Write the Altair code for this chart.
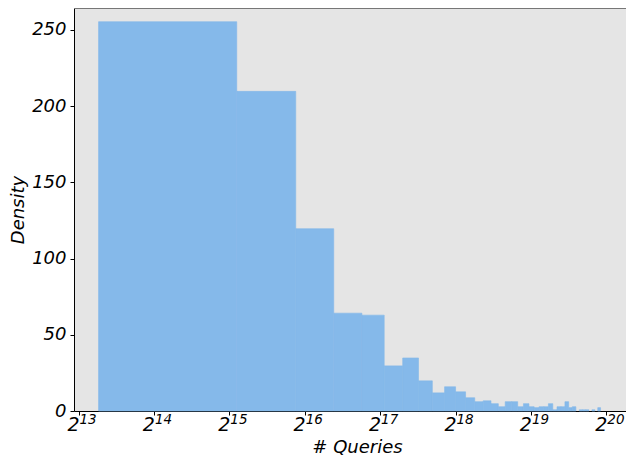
import altair as alt
import pandas as pd

# Histogram: equal-width linear bins shown on a log2 x axis
bin_min = 9850
bin_width = 25250
density = [255.4, 209.7, 119.6, 64.2, 62.9, 29.6, 34.8, 19.8, 11.9, 15.9,
           12.6, 8.7, 6.1, 6.7, 4.8, 2.8, 6.1, 6.1, 2.8, 4.8,
           2.8, 2.2, 2.8, 2.8, 4.8, 0.8, 2.8, 2.8, 6.1, 2.2,
           2.8, 0.0, 0.8, 0.8, 0.8, 0.0, 0.8, 0.0, 2.2]
tick_exponents = [13, 14, 15, 16, 17, 18, 19, 20]
y_ticks = [0, 50, 100, 150, 200, 250]

bars = pd.DataFrame({
    "start": [bin_min + i * bin_width for i in range(len(density))],
    "end": [bin_min + (i + 1) * bin_width for i in range(len(density))],
    "density": density,
})
bars = bars[bars["density"] > 0]

ticks = pd.DataFrame({
    "tick": [2 ** e for e in tick_exponents],
    "base": ["2"] * len(tick_exponents),
    "exp": [str(e) for e in tick_exponents],
})

W, H = 552, 403
FONT = "DejaVu Sans"

xscale = alt.Scale(type="log", base=2, domain=[7860, 1256676], nice=False, zero=False)
xaxis = alt.Axis(values=[2 ** e for e in tick_exponents], labels=False, grid=False,
                 tickSize=4, tickColor="black", domainColor="black",
                 title="# Queries", titleX=283, titleY=41, titleAlign="center",
                 titleBaseline="alphabetic")

bar_layer = alt.Chart(bars).mark_bar(
    color="#85B9EA", stroke="#85B9EA", strokeWidth=0.6
).encode(
    x=alt.X("start:Q", scale=xscale, axis=xaxis),
    x2="end:Q",
    y=alt.Y("density:Q", scale=alt.Scale(domain=[0, 264.4], nice=False),
            axis=alt.Axis(values=y_ticks, grid=False, tickSize=4, tickColor="black",
                          domainColor="black", labelPadding=4, title="Density",
                          titlePadding=4)),
    y2=alt.datum(0),
)

base_text = alt.Chart(ticks).mark_text(
    align="right", baseline="alphabetic", font=FONT, fontSize=19,
    fontStyle="italic", color="black", dx=1
).encode(
    x=alt.X("tick:Q", scale=xscale, axis=xaxis),
    y=alt.value(H + 20),
    text="base:N",
)

exp_text = alt.Chart(ticks).mark_text(
    align="left", baseline="alphabetic", font=FONT, fontSize=13.5,
    fontStyle="italic", color="black", dx=1
).encode(
    x=alt.X("tick:Q", scale=xscale, axis=xaxis),
    y=alt.value(H + 13),
    text="exp:N",
)

top_rule = alt.Chart(ticks).mark_rule(color="#777777", strokeWidth=1.5).encode(
    x=alt.value(0), x2=alt.value(W), y=alt.value(0)
)

chart = alt.layer(bar_layer, base_text, exp_text, top_rule).properties(
    width=W, height=H,
    autosize=alt.AutoSizeParams(type="none"),
    padding={"left": 66, "top": 0, "right": 0, "bottom": 46},
).configure_view(
    fill="#E5E5E5", stroke=None
).configure_axis(
    labelFont=FONT, labelFontSize=18, labelFontStyle="italic", labelColor="black",
    titleFont=FONT, titleFontSize=18, titleFontStyle="italic", titleFontWeight="normal",
    titleColor="black",
)

chart.save("out.html", embed_options={"renderer": "svg", "actions": False})
